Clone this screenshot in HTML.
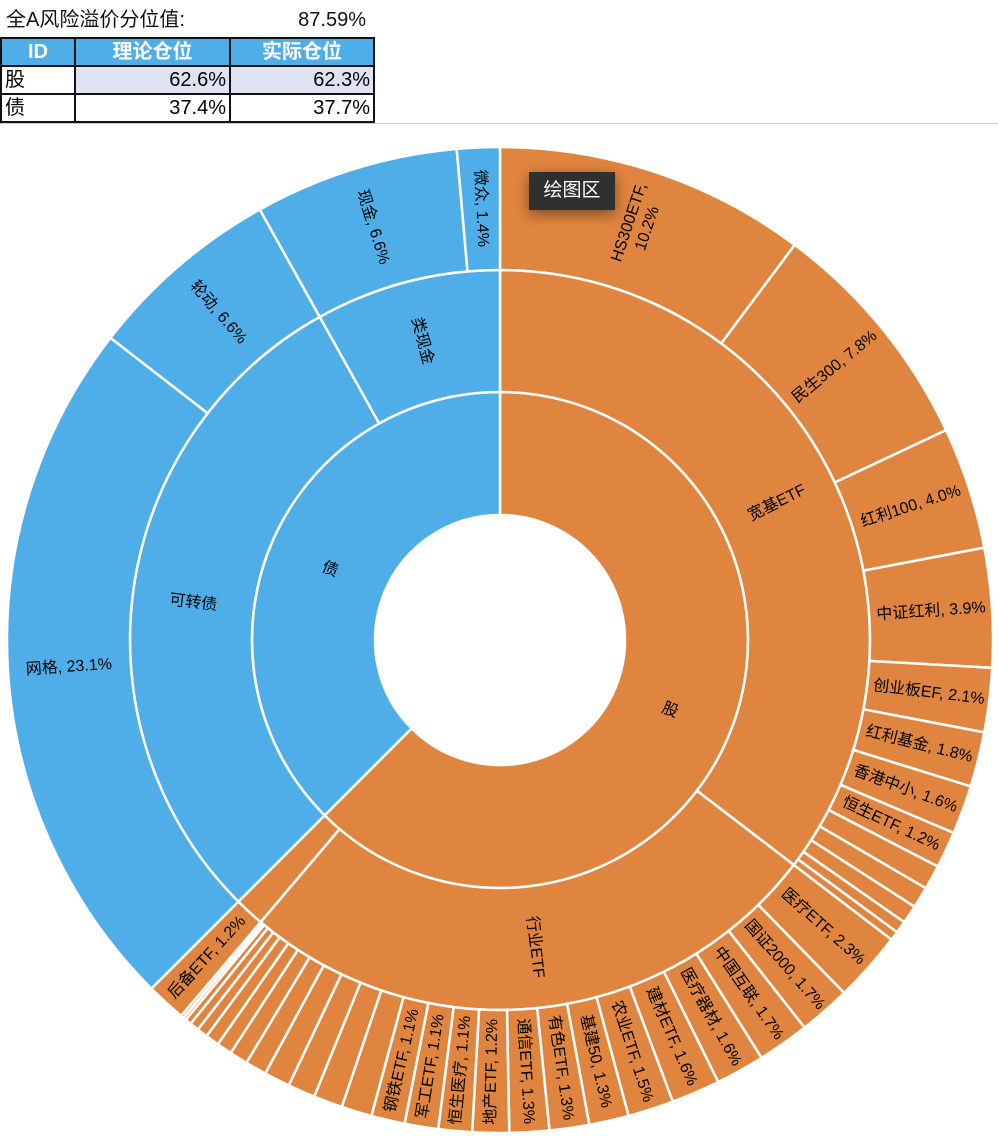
<!DOCTYPE html>
<html><head><meta charset="utf-8">
<style>
html,body{margin:0;padding:0;background:#fff;}
body{width:998px;height:1136px;position:relative;overflow:hidden;font-family:"Liberation Sans","Noto Sans CJK SC",sans-serif;}
#title{position:absolute;left:6px;top:7px;font-size:20px;line-height:26px;color:#111;width:364px;height:26px;}
#title span{position:absolute;right:4px;top:0;line-height:26px;}
table{position:absolute;left:0;top:37px;border-collapse:collapse;font-size:20px;}
td,th{border:2px solid #111;height:26px;padding:0 3px;line-height:26px;}
th{background:#4FADE8;color:#fff;font-weight:bold;}
td.n{text-align:right;}
.lv{background:#dde3f2;}
#sep{position:absolute;left:0;top:123px;width:998px;height:1px;background:#ccc;}
#tip{position:absolute;left:529px;top:172px;width:86px;height:38px;background:#2f2f2f;color:#fff;font-size:19px;line-height:38px;text-align:center;box-shadow:0 4px 14px rgba(0,0,0,.45);}
svg{position:absolute;left:0;top:0;}
svg text{font-family:"Liberation Sans","Noto Sans CJK SC",sans-serif;font-size:16px;fill:#000;text-anchor:middle;dominant-baseline:central;}
</style></head><body>
<div id="title">全A风险溢价分位值:<span>87.59%</span></div>
<table>
<tr><th style="width:66px">ID</th><th style="width:147px">理论仓位</th><th style="width:136px">实际仓位</th></tr>
<tr><td>股</td><td class="n lv">62.6%</td><td class="n lv">62.3%</td></tr>
<tr><td>债</td><td class="n">37.4%</td><td class="n">37.7%</td></tr>
</table>
<div id="sep"></div>
<svg width="998" height="1136" viewBox="0 0 998 1136">
<g id="arcs"></g>
<g>
<text transform="rotate(112.5 500 640) translate(500 456) rotate(-90)">股</text>
<text transform="rotate(292.5 500 640) translate(500 456) rotate(90)">债</text>
<text transform="rotate(63.7 500 640) translate(500 331) rotate(-90)">宽基ETF</text>
<text transform="rotate(173.5 500 640) translate(500 331) rotate(-90)">行业ETF</text>
<text transform="rotate(276.9 500 640) translate(500 331) rotate(90)">可转债</text>
<text transform="rotate(345.4 500 640) translate(500 331) rotate(90)">类现金</text>
<text transform="rotate(18.4 500 640) translate(500 203) rotate(-90)"><tspan x="0" dy="-0.6em">HS300ETF,</tspan><tspan x="0" dy="1.2em">10.2%</tspan></text>
<text transform="rotate(50.8 500 640) translate(500 208) rotate(-90)">民生300, 7.8%</text>
<text transform="rotate(72 500 640) translate(500 208) rotate(-90)">红利100, 4.0%</text>
<text transform="rotate(86.2 500 640) translate(500 208) rotate(-90)">中证红利, 3.9%</text>
<text transform="rotate(97 500 640) translate(500 208) rotate(-90)">创业板EF, 2.1%</text>
<text transform="rotate(104 500 640) translate(500 208) rotate(-90)">红利基金, 1.8%</text>
<text transform="rotate(110.2 500 640) translate(500 208) rotate(-90)">香港中小, 1.6%</text>
<text transform="rotate(115.2 500 640) translate(500 208) rotate(-90)">恒生ETF, 1.2%</text>
<text transform="rotate(131.6 500 640) translate(500 208) rotate(-90)">医疗ETF, 2.3%</text>
<text transform="rotate(138.8 500 640) translate(500 208) rotate(-90)">国证2000, 1.7%</text>
<text transform="rotate(144.9 500 640) translate(500 208) rotate(-90)">中国互联, 1.7%</text>
<text transform="rotate(150.8 500 640) translate(500 208) rotate(-90)">医疗器材, 1.6%</text>
<text transform="rotate(156.6 500 640) translate(500 208) rotate(-90)">建材ETF, 1.6%</text>
<text transform="rotate(162.2 500 640) translate(500 208) rotate(-90)">农业ETF, 1.5%</text>
<text transform="rotate(167.2 500 640) translate(500 208) rotate(-90)">基建50, 1.3%</text>
<text transform="rotate(171.9 500 640) translate(500 208) rotate(-90)">有色ETF, 1.3%</text>
<text transform="rotate(176.6 500 640) translate(500 208) rotate(-90)">通信ETF, 1.3%</text>
<text transform="rotate(181.1 500 640) translate(500 208) rotate(90)">地产ETF, 1.2%</text>
<text transform="rotate(185.2 500 640) translate(500 208) rotate(90)">恒生医疗, 1.1%</text>
<text transform="rotate(189.2 500 640) translate(500 208) rotate(90)">军工ETF, 1.1%</text>
<text transform="rotate(193.1 500 640) translate(500 208) rotate(90)">钢铁ETF, 1.1%</text>
<text transform="rotate(222.7 500 640) translate(500 208) rotate(90)">后备ETF, 1.2%</text>
<text transform="rotate(266.4 500 640) translate(500 208) rotate(90)">网格, 23.1%</text>
<text transform="rotate(319.3 500 640) translate(500 208) rotate(90)">轮动, 6.6%</text>
<text transform="rotate(342.9 500 640) translate(500 208) rotate(90)">现金, 6.6%</text>
<text transform="rotate(357.5 500 640) translate(500 208) rotate(90)">微众, 1.4%</text>
</g>
</svg>
<div id="tip">绘图区</div>
<script>
(function(){
var cx=500,cy=640,O='#E0853F',B='#4FADE8';
function pt(r,p){var a=p*3.6*Math.PI/180;return [cx+r*Math.sin(a),cy-r*Math.cos(a)];}
function arc(r0,r1,p0,p1,c){
 var large=(p1-p0)>50?1:0;
 var a=pt(r1,p0),b=pt(r1,p1),d=pt(r0,p1),e=pt(r0,p0);
 return '<path d="M'+a[0]+' '+a[1]+' A'+r1+' '+r1+' 0 '+large+' 1 '+b[0]+' '+b[1]+' L'+d[0]+' '+d[1]+' A'+r0+' '+r0+' 0 '+large+' 0 '+e[0]+' '+e[1]+' Z" fill="'+c+'" stroke="#fff" stroke-width="2.5"/>';
}
var s='';
s+=arc(125,248,0,62.5,O)+arc(125,248,62.5,100,B);
s+=arc(248,370,0,35.4,O)+arc(248,370,35.4,61.2,O)+arc(248,370,61.2,62.5,O)+arc(248,370,62.5,91.9,B)+arc(248,370,91.9,100,B);
var outer=[10.2,7.8,4.0,3.9,2.1,1.8,1.6,1.2,0.8,0.7,0.6,0.4,0.3,
2.3,1.7,1.7,1.6,1.6,1.5,1.3,1.3,1.3,1.2,1.1,1.1,1.1,
1.0,0.95,0.9,0.85,0.7,0.6,0.5,0.45,0.35,0.3,0.2,0.1,0.1,1.3];
var p=0;for(var i=0;i<outer.length;i++){s+=arc(370,493,p,p+outer[i],O);p+=outer[i];}
var bo=[[62.5,85.5],[85.5,91.9],[91.9,98.6],[98.6,100]];
bo.forEach(function(q){s+=arc(370,493,q[0],q[1],B);});
document.getElementById('arcs').innerHTML=s;
})();
</script>
</body></html>
